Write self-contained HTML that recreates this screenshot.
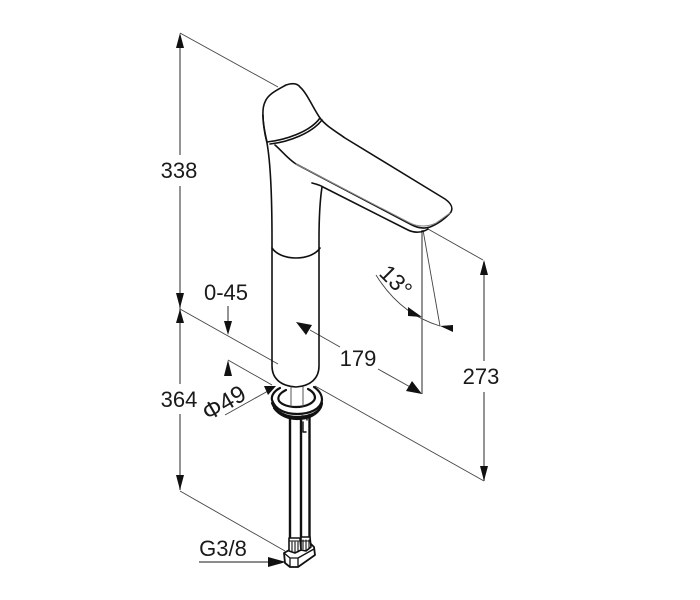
<!DOCTYPE html>
<html>
<head>
<meta charset="utf-8">
<style>
html,body{margin:0;padding:0;background:#fff;width:700px;height:600px;overflow:hidden}
svg{display:block}
text{font-family:"Liberation Sans",sans-serif;font-size:22px;fill:#1a1a1a;text-anchor:middle}
</style>
</head>
<body>
<svg width="700" height="600" viewBox="0 0 700 600" xmlns="http://www.w3.org/2000/svg">
<!-- dimension lines -->
<g fill="none" stroke="#444" stroke-width="0.9">
<path d="M180 33L278 87"/>
<path d="M180 309L278 364"/>
<path d="M315 386L484 481"/>
<path d="M428 229L483 260"/>
<path d="M228 360L272 385"/>
<path d="M225 415L268 391"/>
<path d="M423 230L440 326"/>
<path d="M376 275Q400 314 440 326"/>
<path d="M310 330L340 347"/>
<path d="M378 369L412 388"/>
<path d="M180 491L285 551"/>
</g>
<g fill="none" stroke="#666" stroke-width="1.4">
<path d="M180 36V155M180 186V384M180 414V490"/>
<path d="M484 262V361M484 392V481"/>
<path d="M422 230V394"/>
<path d="M228 306V322"/>
<path d="M199 562H270"/>
</g>
<!-- arrowheads -->
<g fill="#111">
<path d="M180 33L176 48H184Z"/>
<path d="M180 308L176 293H184Z"/>
<path d="M180 309L176 323H184Z"/>
<path d="M180 490L176 475H184Z"/>
<path d="M484 260L480 275H488Z"/>
<path d="M484 481L480 466H488Z"/>
<path d="M228 335L224 321H232Z"/>
<path d="M228 360L224 376H232Z"/>
<path d="M296 322L312 325L306 335Z"/>
<path d="M422 394L406 391L412 381Z"/>
<path d="M422 317L408 307L408 316Z"/>
<path d="M440 326L453 325L453 332Z"/>
<path d="M276 386L264 386L268 395Z"/>
<path d="M286 562L268 557V567Z"/>
</g>
<!-- faucet -->
<g fill="none" stroke="#111" stroke-width="1.6" stroke-linecap="round" stroke-linejoin="round">
<path d="M267 142C263 125 261 110 265 102C268 94 277 90 286 85C292 83 297 83 300 87C307 93 313 108 320 118C325 125 335 131 345 138L445 199C452 204 453 208 451 212C446 218 438 224 430 227C424 229 418 228 412 225L296 164C288 159 282 151 275 145"/>
<path d="M267 142C285 140 310 132 320 118" />
<path d="M270 144C289 142 312 133 322 120" />
<path d="M296 164L410 223C418 227 428 227 436 223L450 213" stroke="#888" stroke-width="1"/>
<path d="M263 115C263 125 265 135 267 143C270 160 272 185 272 240V366C272 378 280 386 296 387C311 386 319 378 319 366V240C319 215 320 200 322 187"/>
<path d="M312 183C316 184 320 185 323 187L408 230C414 233 422 233 428 229"/>
<path d="M272 248C276 254 285 258 296 258C307 258 316 254 320 248"/>
<!-- ring -->
<g stroke-width="2.2">
<path d="M280 388C274 391 271 396 272 400C275 410 286 414 297 414C310 414 321 409 322 400C322 396 320 391 314 387"/>
<path d="M272 403C275 412 286 417 297 417C310 417 321 412 322 403"/>
<path d="M274 408C279 415 288 419 297 419C308 419 317 415 321 407"/>
<path d="M286 390C280 393 277 397 279 401C282 405 289 407 296 407C306 407 314 403 315 398C315 394 312 391 308 389"/>
</g>
<path d="M291 387V406M303 387V406" stroke="#555" stroke-width="1"/>
<!-- pipes -->
<path d="M290 419V538M301 418V537M309.5 415V537" stroke-width="2.4"/>
<path d="M302 416C306 416 307 417 307 420M303 422V432H306" stroke-width="1.4"/>
<!-- base -->
<path d="M284 553L291 549L305 546L310 543L314 547L315 555L298 567H290L285 563Z" fill="#fff" stroke-width="1.8"/>
<path d="M284 553L290 558H298L314 549M290 558V567M298 558V567" stroke-width="1.3"/>
<!-- nuts -->
<path d="M301 537H310L311 547L306 551L301 550Z" fill="#fff" stroke-width="1.6"/>
<path d="M303 540V549M306 540V551M309 540V549M301 541H310" stroke-width="1.1"/>
<path d="M289 538H300L301 550L295 553L289 551Z" fill="#fff" stroke-width="1.6"/>
<path d="M292 542V552M295 542V553M298 542V552M289 541H300" stroke-width="1.1"/>
</g>
<!-- labels -->
<text x="179" y="178">338</text>
<text x="179" y="407">364</text>
<text x="226" y="300">0-45</text>
<text x="358" y="366">179</text>
<text x="481" y="384">273</text>
<text x="223" y="556">G3/8</text>
<text transform="translate(396 281) rotate(45)" y="8" style="font-size:23px">13°</text>
<text transform="translate(224 403) rotate(-30)" y="8" style="font-size:24px">Φ49</text>
</svg>
</body>
</html>
